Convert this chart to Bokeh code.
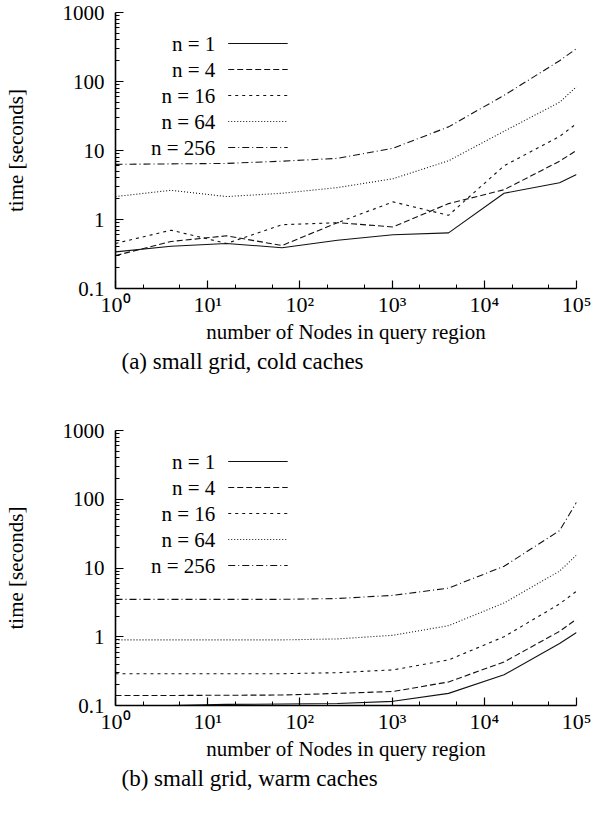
from bokeh.plotting import figure
from bokeh.layouts import column
from bokeh.models import Range1d, FixedTicker, CustomJSTickFormatter, Title
from bokeh.core.properties import value
from bokeh.embed import file_html
from bokeh.resources import INLINE

# ---------------- data ----------------
nodes = [1, 4, 16, 64, 256, 1024, 4096, 16384, 65536, 100000]
labels = ["n = 1", "n = 4", "n = 16", "n = 64", "n = 256"]

cold_n1 = [0.34, 0.41, 0.45, 0.39, 0.50, 0.60, 0.64, 2.4, 3.4, 4.5]
cold_n4 = [0.30, 0.48, 0.58, 0.42, 0.90, 0.78, 1.70, 2.7, 7.0, 10.0]
cold_n16 = [0.45, 0.70, 0.45, 0.84, 0.90, 1.80, 1.15, 6.0, 16.0, 24.5]
cold_n64 = [2.15, 2.65, 2.15, 2.40, 2.90, 3.90, 7.10, 19.0, 50.0, 84.0]
cold_n256 = [6.3, 6.4, 6.5, 7.0, 7.7, 10.8, 22.0, 63.0, 200.0, 300.0]

warm_n1 = [0.098, 0.100, 0.104, 0.105, 0.107, 0.115, 0.150, 0.28, 0.80, 1.15]
warm_n4 = [0.140, 0.140, 0.141, 0.142, 0.150, 0.160, 0.220, 0.43, 1.20, 1.80]
warm_n16 = [0.29, 0.29, 0.29, 0.29, 0.30, 0.33, 0.46, 1.00, 3.00, 4.60]
warm_n64 = [0.90, 0.90, 0.90, 0.90, 0.93, 1.05, 1.45, 3.10, 9.00, 15.4]
warm_n256 = [3.50, 3.50, 3.50, 3.50, 3.60, 4.00, 5.10, 10.6, 35.0, 90.0]

y_major = [0.1, 1, 10, 100, 1000]
x_major = [1, 10, 100, 1000, 10000, 100000]

# ---------------- style ----------------
DASHES = ["solid", "6 3", "3 4", "1 2", "7 3 1 3"]
FONT = "Liberation Serif"
FRAME_W = 465


def make_panel(series, caption, height, top_border, frame_h):
    bottom_border = height - top_border - frame_h
    p = figure(width=594, height=height, x_axis_type="log", y_axis_type="log",
               x_range=Range1d(1, 100000), y_range=Range1d(0.1, 1000),
               output_backend="svg", toolbar_location=None,
               min_border_left=111, min_border_right=18,
               min_border_top=top_border, min_border_bottom=bottom_border)
    p.outline_line_color = None
    p.xgrid.visible = False
    p.ygrid.visible = False
    p.background_fill_color = "white"
    p.border_fill_color = "white"

    for vals, dash in zip(series, DASHES):
        p.line(nodes, vals, line_color="#111111", line_width=1.1, line_dash=dash)

    # legend (label on the left, sample on the right), layout in screen px
    dec_x = FRAME_W / 5.0
    dec_y = frame_h / 4.0
    xt = 10 ** ((220 - 119.3) / dec_x)
    x0 = 10 ** ((233 - 119.3) / dec_x)
    x1 = 10 ** ((293 - 119.3) / dec_x)
    ys = [10 ** (3 - (31 + 26 * i) / dec_y) for i in range(len(labels))]
    p.text(x=[xt] * len(labels), y=ys, text=labels, text_align="right",
           text_baseline="middle", text_font=value(FONT),
           text_font_size="21px", text_color="black")
    for yv, dash in zip(ys, DASHES):
        p.line([x0, x1], [yv, yv], line_color="#111111", line_width=1.1,
               line_dash=dash)

    # axes
    for ax in (p.xaxis[0], p.yaxis[0]):
        ax.axis_line_width = 1.6
        ax.axis_line_color = "black"
        ax.major_tick_line_color = "black"
        ax.minor_tick_line_color = "black"
        ax.major_tick_line_width = 1.2
        ax.minor_tick_line_width = 1.0
        ax.major_tick_out = 0
        ax.major_tick_in = 8
        ax.minor_tick_out = 0
        ax.minor_tick_in = 4
        ax.major_label_text_font = FONT
        ax.major_label_text_font_size = "21px"
        ax.major_label_text_font_style = "normal"
        ax.major_label_text_color = "black"
        ax.axis_label_text_font = FONT
        ax.axis_label_text_font_size = "21px"
        ax.axis_label_text_font_style = "normal"
        ax.axis_label_text_color = "black"

    p.yaxis.ticker = FixedTicker(
        ticks=y_major,
        minor_ticks=[k * 10 ** e for e in range(-1, 3) for k in range(2, 10)])
    p.yaxis.formatter = CustomJSTickFormatter(
        code="return tick < 0.5 ? tick.toFixed(1) : tick.toFixed(0);")
    p.yaxis.axis_label = "time [seconds]"
    p.yaxis.major_label_standoff = 11
    p.yaxis.axis_label_standoff = 32

    p.xaxis.ticker = FixedTicker(
        ticks=x_major,
        minor_ticks=[k * 10 ** e for e in range(0, 5) for k in (2, 5)])
    p.xaxis.formatter = CustomJSTickFormatter(
        code="const s='\u2070\u00b9\u00b2\u00b3\u2074\u2075'; "
             "return '10' + s[Math.round(Math.log10(tick))];")
    p.xaxis.major_label_text_font_size = "22px"
    p.xaxis.axis_label = "number of Nodes in query region"
    p.xaxis.major_label_standoff = 3
    p.xaxis.axis_label_standoff = 0

    t = Title(text=caption, align="left", offset=6, text_font=FONT,
              text_font_size="23px", text_font_style="normal",
              text_color="black", standoff=0)
    p.add_layout(t, "below")
    return p


top = make_panel([cold_n1, cold_n4, cold_n16, cold_n64, cold_n256],
                 "(a) small grid, cold caches", 410, 12, 276)
bot = make_panel([warm_n1, warm_n4, warm_n16, warm_n64, warm_n256],
                 "(b) small grid, warm caches", 388, 20, 275)

layout = column(top, bot, spacing=0)
open("out.html", "w").write(file_html(layout, INLINE))
